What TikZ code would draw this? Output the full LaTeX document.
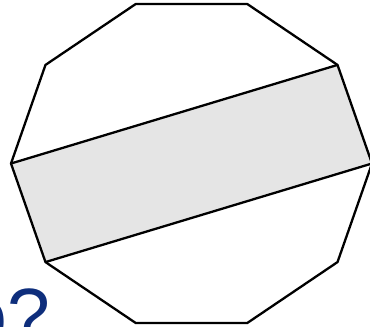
\documentclass[tikz,border=0pt]{standalone}
\usepackage{fontspec}
\setmainfont{Liberation Sans}
\definecolor{qblue}{RGB}{14,46,124}
\definecolor{bandgray}{RGB}{229,229,229}
\tikzset{edge/.style={line width=2.3pt,black,line join=round}}
\begin{document}
\begin{tikzpicture}[x=1pt,y=-1pt]
\useasboundingbox (0,0) rectangle (370,327);
\clip (0,0) rectangle (370,327);
\def\cx{191.5}\def\cy{163.5}\def\rx{180.5}\def\ry{167.7}
\foreach \i in {0,...,9}{
  \coordinate (v\i) at ({\cx+\rx*cos(36*\i)},{\cy-\ry*sin(36*\i)});
}
\fill[bandgray] (v5) -- (v1) -- (v0) -- (v6) -- cycle;
\draw[edge] (v5) -- (v1) (v0) -- (v6);
\draw[edge] (v0) -- (v1) -- (v2) -- (v3) -- (v4) -- (v5) -- (v6) -- (v7) -- (v8) -- (v9) -- cycle;
\node[anchor=base west,inner sep=0pt,text=qblue,font=\fontsize{77}{80}\selectfont] (q) at (-36,342) {o?};
\end{tikzpicture}
\end{document}
